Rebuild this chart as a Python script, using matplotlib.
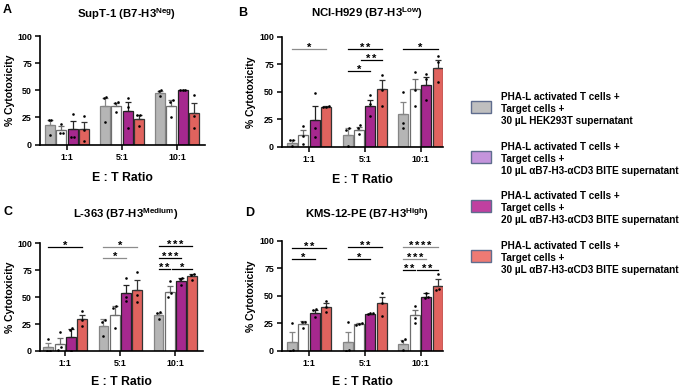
import numpy as np
import matplotlib
matplotlib.use("Agg")
import matplotlib.pyplot as plt
from matplotlib.patches import Rectangle

plt.rcParams['font.family'] = ['Liberation Sans', 'DejaVu Sans']
plt.rcParams['font.weight'] = 'bold'
plt.rcParams['mathtext.fontset'] = 'custom'
plt.rcParams['mathtext.rm'] = 'Liberation Sans:bold'
plt.rcParams['mathtext.bf'] = 'Liberation Sans:bold'

# ---- data ----
ratios = ['1:1', '5:1', '10:1']
conditions = ['HEK293T 30', 'BITE 10', 'BITE 20', 'BITE 30']

# panel A  SupT-1
A_means = [[17.8, 35.5, 47.8], [13.5, 35.5, 35.2], [14.2, 31.0, 50.3], [14.3, 23.6, 29.0]]
A_sem = [[5.0, 7.2, 1.9], [3.1, 3.2, 5.8], [7.3, 8.4, 0.2], [6.7, 3.3, 8.8]]
A_pts = [[[23, 22.5, 8.3], [43.5, 42.5, 21], [49.8, 49.2, 44.5]],
         [[19, 10.8, 10.5], [38.8, 38.3, 29.8], [41.3, 39, 25.5]],
         [[28.5, 7, 7], [42.5, 34.8, 15.5], [50.5, 50.3, 50.1]],
         [[26.5, 13, 3.5], [27, 26.8, 17.5], [46, 26.5, 15]]]
A_sig = []

# panel B  NCI-H929
B_means = [[3.8, 10.5, 29.5], [10.5, 15.2, 52.3], [24.8, 37.4, 56.2], [36.0, 52.3, 72.0]]
B_sem = [[2.6, 7.1, 11.1], [5.3, 3.3, 9.0], [12.2, 5.4, 7.4], [1.1, 8.3, 6.7]]
B_pts = [[[6.4, 6.2, 1.0], [17.5, 15.2, 0.5], [50, 22, 17.6]],
         [[19.4, 10, 2.4], [19.7, 17.3, 11.8], [68.2, 52, 37.6]],
         [[48.8, 17.6, 8.8], [46.7, 38.8, 27.9], [66, 61.2, 42.7]],
         [[37.3, 36.7, 35.9], [65.5, 52, 37.6], [82.7, 76.7, 58.5]]]
# (group, bar_from, bar_to, height, stars, line colour)
B_sig = [(0, 0, 3, 89, 1, '#8c8c8c'),
         (1, 0, 3, 89, 2, 'black'),
         (1, 1, 3, 79, 2, 'black'),
         (1, 0, 2, 69, 1, 'black'),
         (2, 0, 3, 89, 1, 'black')]

# panel C  L-363
C_means = [[3.7, 23.0, 33.3], [6.9, 33.8, 54.6], [13.3, 54.2, 64.8], [29.7, 56.7, 70.0]]
C_sem = [[4.1, 6.3, 2.3], [5.5, 7.8, 5.5], [6.8, 6.8, 2.7], [4.0, 8.9, 1.8]]
C_pts = [[[11, 0.3, 0], [28.8, 27.2, 14.2], [36.2, 35.3, 29.7]],
         [[18, 3.4, 0.5], [41.5, 39.6, 21.4], [65, 53.6, 50.5]],
         [[21.4, 19.5, 0], [67.8, 50.5, 46], [67.5, 67.2, 61.6]],
         [[36.8, 28.8, 23.5], [73.4, 51.7, 45.2], [71.8, 70.9, 66.3]]]
C_sig = [(0, 0, 3, 96.3, 1, 'black'),
         (1, 0, 3, 97, 1, '#8c8c8c'),
         (1, 0, 2, 86.4, 1, '#8c8c8c'),
         (2, 0, 3, 97.2, 3, 'black'),
         (2, 0, 2, 86.4, 3, 'black'),
         (2, 0, 1, 76.2, 2, 'black'),
         (2, 1, 3, 76.2, 1, 'black')]

# panel D  KMS-12-PE
D_means = [[8.3, 8.3, 6.6], [24.1, 24.3, 32.2], [34.7, 33.5, 49.2], [39.5, 43.2, 59.3]]
D_sem = [[9.0, 9.0, 3.8], [2.7, 0.7, 4.9], [2.4, 0.3, 3.7], [3.7, 6.0, 6.0]]
D_pts = [[[25.8, 0.5, 0], [26, 0.5, 0], [10.6, 8.8, 1.2]],
         [[26.7, 26.1, 21], [25, 24.3, 23.7], [41, 30, 25.5]],
         [[37.7, 36.8, 31], [34.3, 34, 33.4], [52.9, 48.6, 48]],
         [[45.6, 39.5, 35], [52.9, 43.2, 31.9], [70.2, 56.5, 55.6]]]
D_sig = [(0, 0, 3, 93, 2, 'black'),
         (0, 0, 2, 83, 1, 'black'),
         (1, 0, 3, 94, 2, 'black'),
         (1, 0, 2, 83, 1, 'black'),
         (2, 0, 3, 94.2, 4, '#8c8c8c'),
         (2, 0, 2, 83.6, 3, '#8c8c8c'),
         (2, 0, 1, 73.6, 2, 'black'),
         (2, 1, 3, 73.6, 2, 'black')]

titles = [r'SupT-1 (B7-H3$^{\mathregular{Neg}}$)', r'NCI-H929 (B7-H3$^{\mathregular{Low}}$)',
          r'L-363 (B7-H3$^{\mathregular{Medium}}$)', r'KMS-12-PE (B7-H3$^{\mathregular{High}}$)']

legend_labels = ['PHA-L activated T cells +\nTarget cells +\n30 µL HEK293T supernatant',
                 'PHA-L activated T cells +\nTarget cells +\n10 µL αB7-H3-αCD3 BITE supernatant',
                 'PHA-L activated T cells +\nTarget cells +\n20 µL αB7-H3-αCD3 BITE supernatant',
                 'PHA-L activated T cells +\nTarget cells +\n30 µL αB7-H3-αCD3 BITE supernatant']

# ---- style ----
bar_face = ['#b5b5b5', 'white', '#a6288e', '#e0635e']
bar_edge = ['#858585', '#6e6e6e', '#222222', '#333333']
leg_face = ['#bfbfbf', '#c494dc', '#c040a0', '#ee7a74']
leg_edge = '#5f6d8e'

W, H = 685, 388
fig = plt.figure(figsize=(W / 100, H / 100), dpi=100)

def fx(p):
    return p / W

def fy(p):
    return 1 - p / H

def ax_rect(l, r, t, b):
    return [fx(l), fy(b), fx(r) - fx(l), fy(t) - fy(b)]

pitch = 0.205
bw = 0.18
offsets = (np.arange(4) - 1.5) * pitch


def spread(vals):
    # horizontal offsets for points that sit close together
    vals = np.asarray(vals, float)
    off = np.zeros(len(vals))
    order = np.argsort(vals)
    groups = [[order[0]]]
    for k in order[1:]:
        if abs(vals[k] - vals[groups[-1][-1]]) < 3.5:
            groups[-1].append(k)
        else:
            groups.append([k])
    for g in groups:
        n = len(g)
        if n > 1:
            for j, k in enumerate(g):
                off[k] = (j - (n - 1) / 2) * 0.05
    return off


def panel(rect, xlim, means, sem, pts, sig, title, letter, letter_xy, title_y, ylab_x, xlab_y):
    ax = fig.add_axes(ax_rect(*rect))
    x = np.arange(len(ratios))
    for i in range(4):
        xs = x + offsets[i]
        ax.bar(xs, means[i], width=bw, color=bar_face[i], edgecolor=bar_edge[i],
               linewidth=0.9, zorder=2)
        ax.errorbar(xs, means[i], yerr=[np.zeros(3), sem[i]], fmt='none',
                    ecolor=bar_edge[i], elinewidth=0.9, capsize=2.2, capthick=0.9, zorder=3)
        for g in range(3):
            ox = spread(pts[i][g])
            ax.scatter(xs[g] + ox, pts[i][g], s=3.5, color='black', zorder=4,
                       linewidths=0)
    for g, a, b, yv, n, col in sig:
        x0 = g + offsets[a]
        x1 = g + offsets[b]
        if a > 0:
            x0 += 0.04
        ax.plot([x0, x1], [yv, yv], color=col, lw=0.9, clip_on=False, zorder=5)
        for k in range(n):
            dx = (k - (n - 1) / 2) * 4.3
            ax.annotate('*', ((x0 + x1) / 2, yv), xytext=(dx, 0.8),
                        textcoords='offset points', ha='center', va='center',
                        fontsize=8, annotation_clip=False)
    ax.set_xlim(*xlim)
    ax.set_ylim(0, 100)
    ax.set_yticks([0, 25, 50, 75, 100])
    ax.set_xticks(x)
    ax.set_xticklabels(ratios)
    ax.tick_params(labelsize=6.4, width=1.1, length=3.8, pad=2)
    for s in ['top', 'right']:
        ax.spines[s].set_visible(False)
    for s in ['left', 'bottom']:
        ax.spines[s].set_linewidth(1.2)
    ax.set_ylabel('% Cytotoxicity', fontsize=7.5, fontweight='bold')
    ax.yaxis.set_label_coords((fx(ylab_x) - fx(rect[0])) / (fx(rect[1]) - fx(rect[0])), 0.5)
    fig.text(fx((rect[0] + rect[1]) / 2), fy(xlab_y), 'E : T Ratio', ha='center',
             va='center', fontsize=8.8, fontweight='bold')
    fig.text(fx((rect[0] + rect[1]) / 2 + 4), fy(title_y), title, ha='center', va='center',
             fontsize=8.2, fontweight='bold')
    fig.text(fx(letter_xy[0]), fy(letter_xy[1]), letter, ha='left', va='center',
             fontsize=9, fontweight='bold')
    return ax


panel((40, 205, 36, 144.5), (-0.49, 2.51), A_means, A_sem, A_pts, A_sig,
      titles[0], 'A', (3, 10), 14, 15, 178)
panel((282, 443, 36.7, 147), (-0.48, 2.4), B_means, B_sem, B_pts, B_sig,
      titles[1], 'B', (238, 13), 13, 256, 180)
panel((40, 203, 243.3, 351), (-0.46, 2.5), C_means, C_sem, C_pts, C_sig,
      titles[2], 'C', (3, 212), 214, 15, 382)
panel((282, 443, 240.7, 351), (-0.48, 2.4), D_means, D_sem, D_pts, D_sig,
      titles[3], 'D', (245, 213), 214, 256, 382)

# ---- legend ----
leg_y = [109, 159, 208, 258]
for i, lab in enumerate(legend_labels):
    fig.add_artist(Rectangle((fx(471), fy(leg_y[i] + 4)), fx(20), 12 / H,
                             facecolor=leg_face[i], edgecolor=leg_edge, linewidth=1.0,
                             transform=fig.transFigure))
    fig.text(fx(501), fy(leg_y[i]), lab, ha='left', va='center', fontsize=7.2,
             fontweight='bold', linespacing=1.3)

fig.savefig('out.png', dpi=100)
